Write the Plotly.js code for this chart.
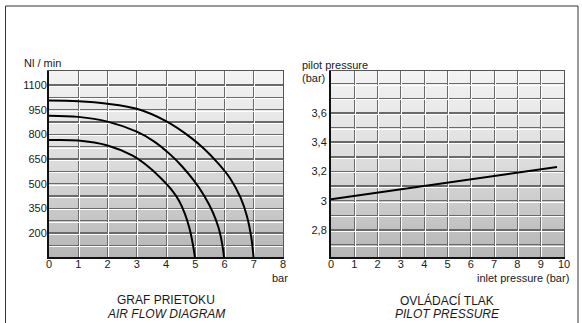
<!DOCTYPE html>
<html><head><meta charset="utf-8">
<script src="https://cdn.plot.ly/plotly-3.0.1.min.js"></script>
<style>html,body{margin:0;padding:0;background:#fff}#chart{width:582px;height:323px}</style>
</head><body><div id="chart"></div>
<script>
// ---- data ----
const flowXTicks = [0,1,2,3,4,5,6,7,8];
const flowYTickVals = [125,200,275,350,425,500,575,650,725,800,875,950,1025,1100];
const flowYTickText = ['','200','','350','','500','','650','','800','','950','','1100'];
const curve7X = [0,1,2,3,4,4.85,5.3,5.8,6.2,6.55,6.77,6.91,7];
const curve7Y = [1005,1001,986,955,880,780,712,620,530,415,300,180,40];
const curve6X = [0,1,2,3,3.6,4.16,4.56,4.97,5.31,5.6,5.8,5.92,6];
const curve6Y = [913,906,877,816,756,675,603,515,425,326,230,134,30];
const curve5X = [0,1,2,2.86,3.46,3.87,4.2,4.45,4.65,4.8,4.92,5];
const curve5Y = [765,762,732,670,594,525,460,395,315,230,130,40];
const pilotXTicks = [0,1,2,3,4,5,6,7,8,9,10];
const pilotYTickVals = [2.7,2.8,2.9,3.0,3.1,3.2,3.3,3.4,3.5,3.6,3.7,3.8];
const pilotYTickText = ['','2,8','','3','','3,2','','3,4','','3,6','',''];
const pilotX = [0, 9.7];
const pilotY = [3.01, 3.23];

// ---- geometry ----
const W = 582, H = 323;
const L1 = 49/W, R1 = 283/W, L2 = 331/W, R2 = 564/W;
const yDom = [(H-257)/H, (H-71)/H];
const flowRange = [54, 1185], pilotRange = [2.615, 3.887];
const plotHpx = 186;
const d1 = 8/((R1-L1)*W), e1 = (flowRange[1]-flowRange[0])/plotHpx;
const d2 = 10/((R2-L2)*W), e2 = (pilotRange[1]-pilotRange[0])/plotHpx;

const dark = '#6a6a6a', white = '#ffffff';
const FONT = 'Liberation Sans, Arial, sans-serif';
const tickFont = {family: FONT, size: 11, color: '#1a1a1a'};

function gradient() {
  const c = document.createElement('canvas');
  c.width = 4; c.height = 200;
  const g = c.getContext('2d');
  const gr = g.createLinearGradient(0,0,0,200);
  gr.addColorStop(0, '#f4f4f4');
  gr.addColorStop(0.5, '#dcdcdc');
  gr.addColorStop(1, '#b6b6b6');
  g.fillStyle = gr; g.fillRect(0,0,4,200);
  return c.toDataURL();
}
const grad = gradient();

const lineStyle = {color: '#000', width: 2, shape: 'spline', smoothing: 1};
const traces = [
  {x: curve7X, y: curve7Y, mode: 'lines', line: lineStyle, xaxis: 'x', yaxis: 'y'},
  {x: curve6X, y: curve6Y, mode: 'lines', line: lineStyle, xaxis: 'x', yaxis: 'y'},
  {x: curve5X, y: curve5Y, mode: 'lines', line: lineStyle, xaxis: 'x', yaxis: 'y'},
  {x: pilotX, y: pilotY, mode: 'lines', line: {color: '#000', width: 2}, xaxis: 'x2', yaxis: 'y2'},
  {x: [], y: [], xaxis: 'x3', yaxis: 'y3', mode: 'lines'},
  {x: [], y: [], xaxis: 'x4', yaxis: 'y4', mode: 'lines'}
];

const baseAx = {zeroline: false, ticks: '', fixedrange: true, tickfont: tickFont, gridwidth: 1};
const layout = {
  width: W, height: H, autosize: false,
  margin: {l: 0, r: 0, t: 0, b: 0},
  paper_bgcolor: '#fff', plot_bgcolor: 'rgba(0,0,0,0)',
  showlegend: false,
  xaxis: Object.assign({}, baseAx, {domain: [L1, R1], range: [0, 8], anchor: 'y', ticklabelstandoff: -4,
    tickvals: flowXTicks, showgrid: true, gridcolor: dark, showline: true, linecolor: '#111', linewidth: 2}),
  yaxis: Object.assign({}, baseAx, {domain: yDom, range: flowRange, anchor: 'x', ticklabelstandoff: -2,
    tickvals: flowYTickVals, ticktext: flowYTickText, showgrid: true, gridcolor: dark, gridwidth: 1.5,
    showline: true, linecolor: '#111', linewidth: 2}),
  xaxis3: Object.assign({}, baseAx, {overlaying: 'x', anchor: 'y3', side: 'top', range: [-d1, 8-d1],
    tickvals: flowXTicks, showticklabels: false, showgrid: true, gridcolor: white,
    showline: true, linecolor: '#555', linewidth: 1}),
  yaxis3: Object.assign({}, baseAx, {overlaying: 'y', anchor: 'x3', side: 'right',
    range: [flowRange[0]+e1*1.5, flowRange[1]+e1*1.5], tickvals: flowYTickVals, showticklabels: false,
    showgrid: true, gridcolor: white, showline: true, linecolor: '#555', linewidth: 1}),
  xaxis2: Object.assign({}, baseAx, {domain: [L2, R2], range: [0, 10], anchor: 'y2', ticklabelstandoff: -4,
    tickvals: pilotXTicks, showgrid: true, gridcolor: dark, showline: true, linecolor: '#111', linewidth: 2}),
  yaxis2: Object.assign({}, baseAx, {domain: yDom, range: pilotRange, anchor: 'x2',
    tickvals: pilotYTickVals, ticktext: pilotYTickText, showgrid: true, gridcolor: dark, gridwidth: 1.5,
    showline: true, linecolor: '#111', linewidth: 2}),
  xaxis4: Object.assign({}, baseAx, {overlaying: 'x2', anchor: 'y4', side: 'top', range: [-d2, 10-d2],
    tickvals: pilotXTicks, showticklabels: false, showgrid: true, gridcolor: white,
    showline: true, linecolor: '#555', linewidth: 1}),
  yaxis4: Object.assign({}, baseAx, {overlaying: 'y2', anchor: 'x4', side: 'right',
    range: [pilotRange[0]+e2*1.5, pilotRange[1]+e2*1.5], tickvals: pilotYTickVals, showticklabels: false,
    showgrid: true, gridcolor: white, showline: true, linecolor: '#555', linewidth: 1}),
  images: [
    {source: grad, xref: 'paper', yref: 'paper', x: L1, y: yDom[1], sizex: R1-L1, sizey: yDom[1]-yDom[0],
     xanchor: 'left', yanchor: 'top', sizing: 'stretch', layer: 'below'},
    {source: grad, xref: 'paper', yref: 'paper', x: L2, y: yDom[1], sizex: R2-L2, sizey: yDom[1]-yDom[0],
     xanchor: 'left', yanchor: 'top', sizing: 'stretch', layer: 'below'}
  ],
  shapes: [
    {type: 'line', xref: 'paper', yref: 'paper', x0: 5.5/W, x1: 5.5/W, y0: 0, y1: (H-6)/H, line: {color: '#333', width: 1}},
    {type: 'line', xref: 'paper', yref: 'paper', x0: 5.5/W, x1: 578/W, y0: (H-6)/H, y1: (H-6)/H, line: {color: '#333', width: 1}},
    {type: 'line', xref: 'paper', yref: 'paper', x0: 578/W, x1: 578/W, y0: 0, y1: (H-6)/H, line: {color: '#333', width: 1}}
  ],
  annotations: []
};
function ann(text, xpx, ypx, xanchor, size) {
  layout.annotations.push({text: text, xref: 'paper', yref: 'paper', x: xpx/W, y: (H-ypx)/H,
    xanchor: xanchor, yanchor: 'middle', showarrow: false, borderpad: 0,
    font: {family: FONT, size: size, color: '#1a1a1a'}});
}
ann('Nl / min', 23, 63, 'left', 11);
ann('bar', 280, 278, 'center', 11);
ann('pilot pressure', 301, 65, 'left', 11);
ann('(bar)', 301, 78, 'left', 11);
ann('inlet pressure (bar)', 570, 278, 'right', 11);
ann('GRAF PRIETOKU', 166, 300, 'center', 12);
ann('<i>AIR FLOW DIAGRAM</i>', 166, 313.5, 'center', 12);
ann('OVLÁDACÍ TLAK', 447, 300, 'center', 12);
ann('<i>PILOT PRESSURE</i>', 447, 313.5, 'center', 12);

Plotly.newPlot('chart', traces, layout, {staticPlot: true, displayModeBar: false});
</script>
</body></html>
